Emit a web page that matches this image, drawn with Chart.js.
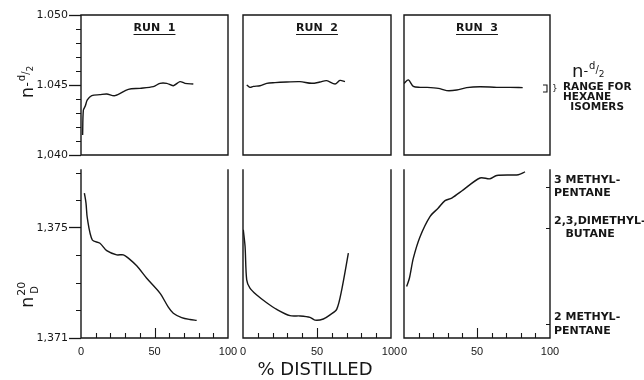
<!DOCTYPE html>
<html>
<head>
<meta charset="utf-8">
<script src="https://cdn.jsdelivr.net/npm/chart.js@4"></script>
<style>
  body { margin: 0; background: #fff; }
  #wrap { position: relative; width: 644px; height: 380px; background: #fff; }
  #wrap canvas { position: absolute; left: 0; top: 0; }
</style>
</head>
<body>
<div id="wrap">
  <canvas id="t1" width="644" height="380"></canvas>
  <canvas id="t2" width="644" height="380"></canvas>
  <canvas id="t3" width="644" height="380"></canvas>
  <canvas id="b1" width="644" height="380"></canvas>
  <canvas id="b2" width="644" height="380"></canvas>
  <canvas id="b3" width="644" height="380"></canvas>
</div>
<script>
// n - d/2 and n20D against % distilled, three runs

// ---- data ----
const runLabels = ['RUN 1', 'RUN 2', 'RUN 3'];

const xTicks = [0, 50, 100];
const xMinorTicks = [10, 20, 30, 40, 60, 70, 80, 90];
const xMidTicks = [50];

const densTicks = [1.040, 1.045, 1.050];
const densTickLabels = ['1,040', '1.045', '1.050'];
const densMinorTicks = [1.041, 1.042, 1.043, 1.044, 1.046, 1.047, 1.048, 1.049];

const refrTicks = [1.371, 1.375];
const refrTickLabels = ['1,371', '1,375'];
const refrMinorTicks = [1.372, 1.373, 1.374, 1.376, 1.377];

const isomerValues = [1.3715, 1.3750, 1.3765];
const isomerLabels = [['2 METHYL-', 'PENTANE'], ['2,3,DIMETHYL-', '   BUTANE'], ['3 METHYL-', 'PENTANE']];
const hexaneRange = [1.0445, 1.0450];
const hexaneText = ['RANGE FOR', 'HEXANE', '  ISOMERS'];

// top row: n - d/2
const run1DensPct = [1.1, 1.6, 2.9, 4.3, 7.3, 12.9, 17.5, 23.1, 32.2, 40.1, 49.2, 53.7, 58.3, 62.8, 67.3, 70.7, 76.4];
const run1Dens = [1.04143, 1.0432, 1.0435, 1.04393, 1.04424, 1.04431, 1.04436, 1.04424, 1.04469, 1.04476, 1.04488, 1.04512, 1.04512, 1.04495, 1.04524, 1.04512, 1.04507];
const run2DensPct = [2.5, 4.7, 7, 11.5, 16, 21.6, 29.5, 38.5, 46.4, 52, 56.5, 62.2, 65.5, 68.9];
const run2Dens = [1.0450, 1.04483, 1.0449, 1.04495, 1.04512, 1.04517, 1.04521, 1.04524, 1.04512, 1.04521, 1.04531, 1.04507, 1.04533, 1.04524];
const run3DensPct = [0, 3, 6.4, 11, 15.5, 23.5, 29.2, 36.1, 42.9, 52, 63.5, 72.6, 81.3];
const run3Dens = [1.04512, 1.04536, 1.0449, 1.04483, 1.04483, 1.04476, 1.0446, 1.04464, 1.04481, 1.04488, 1.04483, 1.04483, 1.04481];

// bottom row: n20D
const run1RefrPct = [2.3, 3.4, 4.3, 7.7, 12.9, 17.5, 24.3, 28.8, 32.2, 37.9, 44.7, 53.7, 59.4, 62.8, 68.5, 74.1, 78.7];
const run1Refr = [1.37626, 1.3759, 1.37535, 1.37456, 1.37444, 1.37417, 1.37402, 1.37402, 1.3739, 1.37362, 1.37317, 1.37263, 1.37212, 1.3719, 1.37174, 1.37167, 1.37164];
const run2RefrPct = [0.2, 1.4, 2.5, 4.7, 9.3, 16, 22.8, 31.8, 38.5, 45.3, 48.6, 54.3, 58.8, 63.3, 66.7, 71.2];
const run2Refr = [1.37493, 1.37432, 1.37311, 1.37281, 1.37256, 1.37228, 1.37204, 1.37181, 1.3718, 1.37175, 1.37165, 1.37169, 1.37184, 1.37204, 1.37275, 1.37408];
const run3RefrPct = [1.8, 3.7, 6.4, 11, 17.8, 23.5, 28.1, 32.7, 40.6, 52.1, 58.9, 63.5, 78.3, 82.9];
const run3Refr = [1.37287, 1.37317, 1.3739, 1.37468, 1.37541, 1.37572, 1.37599, 1.37608, 1.37638, 1.37681, 1.37678, 1.3769, 1.37693, 1.37703];

// ---- layout ----
const W = 644, H = 380;
const cols = [[81, 228], [243, 391], [404, 550]];
const topRow = [15, 155];
const botRow = [170, 338];
const yAxisW = 60, xAxisH = 20, rightAxisW = 94;
const ink = '#161616';
const FONT = 'DejaVu Sans';

function pairs(xs, ys) {
  return xs.map((x, i) => ({ x: x, y: ys[i] }));
}

// draws text pieces one after another (for n - d/2 and n20D)
function drawParts(ctx, parts, x, y, rotate) {
  ctx.save();
  ctx.translate(x, y);
  if (rotate) ctx.rotate(-Math.PI / 2);
  ctx.fillStyle = ink;
  ctx.textBaseline = 'alphabetic';
  ctx.textAlign = 'left';
  let total = 0;
  parts.forEach(p => {
    ctx.font = p.size + 'px "' + FONT + '"';
    p.w = ctx.measureText(p.t).width;
    if (!p.keep) total += p.w + (p.gap || 0);
  });
  let cx = rotate ? -total / 2 : 0;
  parts.forEach(p => {
    ctx.font = p.size + 'px "' + FONT + '"';
    ctx.fillText(p.t, cx + (p.dx || 0), p.dy || 0);
    if (!p.keep) cx += p.w + (p.gap || 0);
  });
  ctx.restore();
}

function densTitle() {
  return [
    { t: 'n', size: 18 },
    { t: '-', size: 13, dy: -2, gap: 1 },
    { t: 'd', size: 10, dy: -8 },
    { t: '/', size: 10, dy: -4 },
    { t: '2', size: 9, dy: 0 }
  ];
}

function decorPlugin(p) {
  return {
    id: 'decor',
    afterDraw(chart) {
      const ctx = chart.ctx, a = chart.chartArea;
      const ys = chart.scales.y, xs = chart.scales.x;
      ctx.save();
      ctx.strokeStyle = ink;
      ctx.lineWidth = 1.4;
      ctx.lineCap = 'square';

      // panel frame (bottom row has no top edge)
      ctx.beginPath();
      if (!p.bottom) {
        ctx.moveTo(a.left, a.top); ctx.lineTo(a.right, a.top);
      }
      ctx.moveTo(a.left, a.top); ctx.lineTo(a.left, a.bottom);
      ctx.moveTo(a.right, a.top); ctx.lineTo(a.right, a.bottom);
      ctx.moveTo(a.left, a.bottom); ctx.lineTo(a.right, a.bottom);
      ctx.stroke();

      ctx.lineWidth = 1.1;
      ctx.lineCap = 'butt';
      // minor ticks on the left axis of the first column
      if (p.col === 0) {
        const minor = p.bottom ? refrMinorTicks : densMinorTicks;
        ctx.beginPath();
        minor.forEach(v => {
          const y = Math.round(ys.getPixelForValue(v)) + 0.5;
          ctx.moveTo(a.left - 5, y); ctx.lineTo(a.left, y);
        });
        ctx.stroke();
      }
      // inward ticks on the % distilled axis
      if (p.bottom) {
        ctx.beginPath();
        xMinorTicks.forEach(v => {
          const x = Math.round(xs.getPixelForValue(v)) + 0.5;
          ctx.moveTo(x, a.bottom); ctx.lineTo(x, a.bottom - 5);
        });
        xMidTicks.forEach(v => {
          const x = Math.round(xs.getPixelForValue(v)) + 0.5;
          ctx.moveTo(x, a.bottom); ctx.lineTo(x, a.bottom - 10);
        });
        ctx.stroke();
      }

      ctx.fillStyle = ink;
      // run titles, underlined
      if (!p.bottom) {
        ctx.font = 'bold 11px "' + FONT + '"';
        ctx.textAlign = 'center';
        ctx.textBaseline = 'alphabetic';
        const label = runLabels[p.col].replace(' ', '  ');
        const cx = (a.left + a.right) / 2;
        const w = ctx.measureText(label).width;
        ctx.fillText(label, cx, a.top + 16);
        ctx.beginPath();
        ctx.moveTo(cx - w / 2, a.top + 19.5); ctx.lineTo(cx + w / 2, a.top + 19.5);
        ctx.stroke();
      }

      // left axis titles
      if (p.col === 0 && !p.bottom) {
        drawParts(ctx, densTitle(), 33, 82, true);
      }
      if (p.col === 0 && p.bottom) {
        drawParts(ctx, [
          { t: 'n', size: 18, gap: 1 },
          { t: '20', size: 11, dy: -8, keep: true },
          { t: 'D', size: 10, dy: 5, dx: 2 }
        ], 33, 298, true);
      }

      // x axis title under the middle column
      if (p.col === 1 && p.bottom) {
        ctx.font = '18px "' + FONT + '"';
        ctx.textAlign = 'center';
        ctx.textBaseline = 'middle';
        ctx.fillText('% DISTILLED', (a.left + a.right) / 2 - 2, 370);
      }

      // hexane range note to the right of run 3
      if (p.col === 2 && !p.bottom) {
        const y0 = ys.getPixelForValue(hexaneRange[1]);
        const y1 = ys.getPixelForValue(hexaneRange[0]);
        const bx = a.right - 3;
        ctx.beginPath();
        ctx.moveTo(bx - 4, y0); ctx.lineTo(bx, y0); ctx.lineTo(bx, y1); ctx.lineTo(bx - 4, y1);
        ctx.stroke();
        ctx.font = '9px "' + FONT + '"';
        ctx.textAlign = 'left';
        ctx.textBaseline = 'middle';
        ctx.fillText('}', a.right + 2, (y0 + y1) / 2);

        drawParts(ctx, densTitle(), a.right + 22, 77, false);
        ctx.font = 'bold 10.5px "' + FONT + '"';
        ctx.textBaseline = 'alphabetic';
        hexaneText.forEach((t, i) => {
          ctx.fillText(t, a.right + 13, 90 + i * 10);
        });
      }

      // isomer marks on the right edge of run 3
      if (p.col === 2 && p.bottom) {
        ctx.beginPath();
        isomerValues.forEach(v => {
          const y = Math.round(ys.getPixelForValue(v)) + 0.5;
          ctx.moveTo(a.right - 4, y); ctx.lineTo(a.right, y);
        });
        ctx.stroke();
      }
      ctx.restore();
    }
  };
}

function makePanel(id, p) {
  const [left, right] = cols[p.col];
  const [top, bottom] = p.bottom ? botRow : topRow;
  const yMin = p.bottom ? 1.371 : 1.040;
  const yMax = p.bottom ? 1.3771 : 1.050;
  const major = p.bottom ? refrTicks : densTicks;
  const majorLabels = p.bottom ? refrTickLabels : densTickLabels;
  const showY = p.col === 0;
  const showX = !!p.bottom;
  const showRight = p.col === 2 && p.bottom;

  const scales = {
    x: {
      type: 'linear', min: 0, max: 100, display: showX,
      afterFit: s => { s.height = showX ? xAxisH : 0; },
      afterBuildTicks: s => { s.ticks = xTicks.map(v => ({ value: v })); },
      grid: { display: false, drawTicks: false },
      border: { display: false },
      ticks: { padding: 7, autoSkip: false, maxRotation: 0, color: ink, font: { family: 'Liberation Sans', size: 11 } }
    },
    y: {
      type: 'linear', min: yMin, max: yMax, display: showY,
      afterFit: s => { s.width = showY ? yAxisW : 0; },
      afterBuildTicks: s => { s.ticks = major.map(v => ({ value: v })); },
      grid: { drawOnChartArea: false, drawTicks: true, tickLength: 12, color: ink, tickWidth: 1.3 },
      border: { display: false },
      ticks: {
        padding: 1, autoSkip: false, color: ink, font: { family: FONT, size: 11 },
        callback: (v, i) => majorLabels[i]
      }
    }
  };
  if (showRight) {
    scales.y2 = {
      type: 'linear', position: 'right', min: yMin, max: yMax, display: true,
      afterFit: s => { s.width = rightAxisW; },
      afterBuildTicks: s => { s.ticks = isomerValues.map(v => ({ value: v })); },
      grid: { display: false, drawTicks: false },
      border: { display: false },
      ticks: {
        padding: 4, autoSkip: false, color: ink,
        font: { family: FONT, size: 11, weight: 'bold', lineHeight: 1.2 },
        callback: (v, i) => isomerLabels[i]
      }
    };
  }

  return new Chart(document.getElementById(id), {
    type: 'line',
    data: {
      datasets: [{
        data: pairs(p.xs, p.ys),
        borderColor: ink,
        borderWidth: 1.4,
        pointRadius: 0,
        fill: false,
        tension: 0.3
      }]
    },
    options: {
      responsive: false,
      animation: false,
      events: [],
      parsing: false,
      layout: {
        padding: {
          left: left - (showY ? yAxisW : 0),
          right: W - right - (showRight ? rightAxisW : 0),
          top: top,
          bottom: H - bottom - (showX ? xAxisH : 0)
        }
      },
      scales: scales,
      plugins: { legend: { display: false }, tooltip: { enabled: false } }
    },
    plugins: [decorPlugin(p)]
  });
}

makePanel('t1', { col: 0, xs: run1DensPct, ys: run1Dens });
makePanel('t2', { col: 1, xs: run2DensPct, ys: run2Dens });
makePanel('t3', { col: 2, xs: run3DensPct, ys: run3Dens });
makePanel('b1', { col: 0, bottom: true, xs: run1RefrPct, ys: run1Refr });
makePanel('b2', { col: 1, bottom: true, xs: run2RefrPct, ys: run2Refr });
makePanel('b3', { col: 2, bottom: true, xs: run3RefrPct, ys: run3Refr });
</script>
</body>
</html>
